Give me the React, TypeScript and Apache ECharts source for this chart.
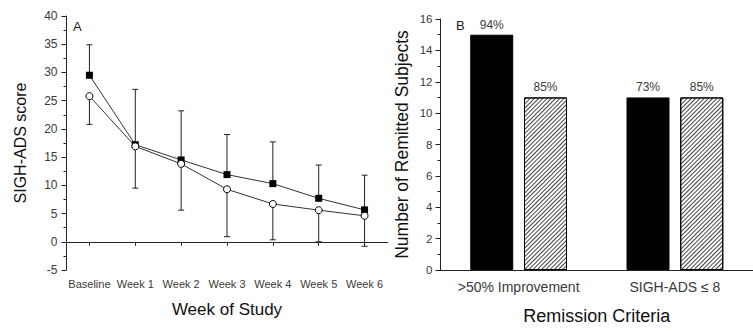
import React, { useEffect, useRef } from "react";
import * as echarts from "echarts";

// Panel A data
const weeks = ["Baseline", "Week 1", "Week 2", "Week 3", "Week 4", "Week 5", "Week 6"];
const filledMean = [29.5, 17.2, 14.5, 11.9, 10.3, 7.7, 5.65];
const filledUpper = [34.9, 27.0, 23.2, 19.0, 17.7, 13.6, 11.8];
const openMean = [25.8, 16.9, 13.8, 9.3, 6.7, 5.6, 4.6];
const openLower = [20.8, 9.5, 5.6, 0.9, 0.35, 0.0, -0.8];
const yTicksA = { min: -5, max: 40, interval: 5 };

// Panel B data
const criteria = [">50% Improvement", "SIGH-ADS \u2264 8"];
const solidCounts = [15, 11];
const hatchedCounts = [11, 11];
const solidPct = ["94%", "73%"];
const hatchedPct = ["85%", "85%"];
const yTicksB = { min: 0, max: 16, interval: 2 };

const FONT = "Liberation Sans, Arial, sans-serif";
const TXT = "#3a3a3a";
const AX = "#222";

export default function App() {
  const ref = useRef<HTMLDivElement>(null);
  useEffect(() => {
    if (!ref.current) return;
    const chart = echarts.init(ref.current, null, { renderer: "svg" });

    const errRender = (params: any, api: any) => {
      const x = api.value(0);
      const v = api.value(1);
      const e = api.value(2);
      const p0 = api.coord([x, v]);
      const p1 = api.coord([x, e]);
      const hw = 3;
      return {
        type: "group",
        children: [
          { type: "line", shape: { x1: p0[0], y1: p0[1], x2: p1[0], y2: p1[1] }, style: { stroke: AX, lineWidth: 1 } },
          { type: "line", shape: { x1: p1[0] - hw, y1: p1[1], x2: p1[0] + hw, y2: p1[1] }, style: { stroke: AX, lineWidth: 1 } },
        ],
      };
    };

    const yAxisCommon = {
      type: "value",
      splitLine: { show: false },
      axisLine: { show: true, lineStyle: { color: AX, width: 1 } },
      axisTick: { show: true, inside: false, length: 5, lineStyle: { color: AX } },
      minorTick: { show: true, splitNumber: 2, length: 3, lineStyle: { color: AX } },
      nameLocation: "middle",
    };

    chart.setOption({
      animation: false,
      backgroundColor: "#fff",
      grid: [
        { left: 66.5, top: 16, width: 321, height: 254 },
        { left: 440.5, top: 19, width: 322, height: 251 },
      ],
      xAxis: [
        {
          gridIndex: 0,
          type: "category",
          data: weeks,
          boundaryGap: true,
          axisLine: { show: true, lineStyle: { color: AX, width: 1 } },
          axisTick: { show: true, alignWithLabel: true, length: 4, lineStyle: { color: AX } },
          axisLabel: { color: TXT, fontFamily: FONT, fontSize: 11, margin: 8, interval: 0 },
          name: "Week of Study",
          nameLocation: "middle",
          nameGap: 31,
          nameTextStyle: { color: "#111", fontFamily: FONT, fontSize: 17 },
        },
        {
          gridIndex: 1,
          type: "category",
          data: criteria,
          boundaryGap: true,
          axisLine: { show: true, lineStyle: { color: AX, width: 1 } },
          axisTick: { show: false },
          axisLabel: { color: TXT, fontFamily: FONT, fontSize: 14, margin: 10, interval: 0 },
          name: "Remission Criteria",
          nameLocation: "middle",
          nameGap: 37,
          nameTextStyle: { color: "#111", fontFamily: FONT, fontSize: 18 },
        },
      ],
      yAxis: [
        {
          ...yAxisCommon,
          gridIndex: 0,
          min: yTicksA.min,
          max: yTicksA.max,
          interval: yTicksA.interval,
          axisLabel: { color: TXT, fontFamily: FONT, fontSize: 12, margin: 9 },
          name: "SIGH-ADS score",
          nameGap: 38,
          nameTextStyle: { color: "#111", fontFamily: FONT, fontSize: 16 },
        },
        {
          ...yAxisCommon,
          gridIndex: 1,
          min: yTicksB.min,
          max: yTicksB.max,
          interval: yTicksB.interval,
          axisLabel: { color: TXT, fontFamily: FONT, fontSize: 11.5, margin: 8 },
          name: "Number of Remitted Subjects",
          nameGap: 30,
          nameTextStyle: { color: "#111", fontFamily: FONT, fontSize: 17.5 },
        },
      ],
      graphic: [
        { type: "text", left: 73, top: 20, style: { text: "A", fontFamily: FONT, fontSize: 13, fill: "#222" } },
        { type: "text", left: 456, top: 19, style: { text: "B", fontFamily: FONT, fontSize: 13, fill: "#222" } },
      ],
      series: [
        {
          type: "custom",
          xAxisIndex: 0,
          yAxisIndex: 0,
          renderItem: errRender,
          data: filledMean.map((v, i) => [i, v, filledUpper[i]]),
          encode: { x: 0, y: [1, 2] },
          z: 1,
          silent: true,
        },
        {
          type: "custom",
          xAxisIndex: 0,
          yAxisIndex: 0,
          renderItem: errRender,
          data: openMean.map((v, i) => [i, v, openLower[i]]),
          encode: { x: 0, y: [1, 2] },
          z: 1,
          silent: true,
        },
        {
          type: "line",
          xAxisIndex: 0,
          yAxisIndex: 0,
          data: filledMean,
          symbol: "rect",
          symbolSize: 7,
          lineStyle: { color: "#333", width: 1 },
          itemStyle: { color: "#000", borderColor: "#000", borderWidth: 0 },
          z: 3,
        },
        {
          type: "line",
          xAxisIndex: 0,
          yAxisIndex: 0,
          data: openMean,
          symbol: "circle",
          symbolSize: 7,
          showSymbol: true,
          lineStyle: { color: "#333", width: 1 },
          itemStyle: { color: "#fff", borderColor: "#000", borderWidth: 1 },
          z: 3,
        },
        {
          type: "bar",
          xAxisIndex: 1,
          yAxisIndex: 1,
          data: solidCounts,
          barWidth: 43,
          barGap: "25%",
          itemStyle: { color: "#000", borderColor: "#000", borderWidth: 1 },
          label: {
            show: true,
            position: "top",
            distance: 4,
            color: TXT,
            fontFamily: FONT,
            fontSize: 12,
            formatter: (p: any) => solidPct[p.dataIndex],
          },
        },
        {
          type: "bar",
          xAxisIndex: 1,
          yAxisIndex: 1,
          data: hatchedCounts,
          barWidth: 43,
          barGap: "25%",
          itemStyle: {
            color: "#fff",
            borderColor: "#000",
            borderWidth: 1,
            decal: {
              symbol: "rect",
              symbolSize: 1,
              color: "#444",
              backgroundColor: "#fff",
              dashArrayX: [1, 0],
              dashArrayY: [1, 1.5],
              rotation: -Math.PI / 4,
            },
          },
          label: {
            show: true,
            position: "top",
            distance: 4,
            color: TXT,
            fontFamily: FONT,
            fontSize: 12,
            formatter: (p: any) => hatchedPct[p.dataIndex],
          },
        },
      ],
    });
    return () => chart.dispose();
  }, []);
  return (
    <div
      ref={ref}
      style={{ position: "absolute", left: 0, top: 0, width: 753, height: 331 }}
    />
  );
}
